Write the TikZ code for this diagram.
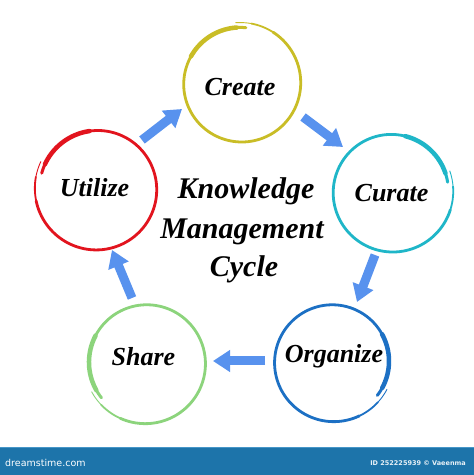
\documentclass[tikz,border=0pt]{standalone}
\usepackage{fontspec}
\setmainfont{Liberation Serif}
\newfontfamily\bannerfont{DejaVu Sans}
\usetikzlibrary{arrows.meta}
\definecolor{kmyellow}{RGB}{201,189,38}
\definecolor{kmteal}{RGB}{31,182,200}
\definecolor{kmred}{RGB}{226,20,30}
\definecolor{kmgreen}{RGB}{140,212,124}
\definecolor{kmblue}{RGB}{28,112,196}
\definecolor{kmarrow}{RGB}{88,146,238}
\definecolor{kmbanner}{RGB}{29,116,170}
\definecolor{kmbannerline}{RGB}{70,150,200}
\tikzset{
  stage/.style={circle, minimum size=118pt, inner sep=0pt, draw=none},
  stagelabel/.style={anchor=base, font=\fontsize{26}{30}\selectfont\bfseries\itshape},
  titleline/.style={anchor=base, font=\fontsize{30}{36}\selectfont\bfseries\itshape},
  flow/.style={draw=kmarrow, line width=9pt, -{Triangle[width=21pt,length=17pt]}},
}
% #1 node name, #2 radius, #3 start angle, #4 sweep, #5 colour
\newcommand\kmspiral[5]{%
  \begin{scope}[shift={(#1.center)}, color=#5, line cap=round]
    \draw[line width=0.9pt] plot[domain=0:0.04,samples=8] ({#3+(#4)*\x}:{#2+2.5-5*\x});
    \draw[line width=1.8pt] plot[domain=0.04:0.1,samples=10] ({#3+(#4)*\x}:{#2+2.5-5*\x});
    \draw[line width=2.8pt] plot[domain=0.1:0.82,samples=90] ({#3+(#4)*\x}:{#2+2.5-5*\x});
    \draw[line width=4.5pt] plot[domain=0.82:0.975,samples=20] ({#3+(#4)*\x}:{#2+2.5-5*\x});
    \draw[line width=3pt] plot[domain=0.975:1,samples=4] ({#3+(#4)*\x}:{#2+2.5-5*\x});
  \end{scope}}
\begin{document}
\begin{tikzpicture}[x=1pt,y=1pt]
\useasboundingbox (0,0) rectangle (474,475);
\fill[white] (0,0) rectangle (474,475);

% stages
\node[stage] (create)   at (241,391.5) {};
\node[stage] (curate)   at (392,283) {};
\node[stage] (organize) at (333,113) {};
\node[stage] (share)    at (146,112) {};
\node[stage] (utilize)  at (97,286) {};

\kmspiral{create}{58.5}{95}{-370}{kmyellow}
\kmspiral{curate}{59}{20}{-370}{kmteal}
\kmspiral{organize}{58}{-27}{-370}{kmblue}
\kmspiral{utilize}{60}{154}{370}{kmred}
\kmspiral{share}{59}{208}{370}{kmgreen}

\node[stagelabel] (createL)   at (240,379) {Create};
\node[stagelabel] (curateL)   at (391.5,273) {Curate};
\node[stagelabel] (organizeL) at (334,112) {Organize};
\node[stagelabel] (shareL)    at (143.5,110) {Share};
\node[stagelabel] (utilizeL)  at (94.5,278) {Utilize};

% title
\node[titleline] (t1) at (246,276) {Knowledge};
\node[titleline] (t2) at (242,236) {Management};
\node[titleline] (t3) at (244,198) {Cycle};

% arrows
\coordinate (a1s) at (142,335); \coordinate (a1e) at (182,366);
\coordinate (a2s) at (303,358); \coordinate (a2e) at (343,328);
\coordinate (a3s) at (375,220); \coordinate (a3e) at (357,173);
\coordinate (a4s) at (265,114); \coordinate (a4e) at (213,114);
\coordinate (a5s) at (132,177); \coordinate (a5e) at (112,225);
\draw[flow] (a1s) -- (a1e);
\draw[flow] (a2s) -- (a2e);
\draw[flow] (a3s) -- (a3e);
\draw[flow] (a4s) -- (a4e);
\draw[flow] (a5s) -- (a5e);

% banner
\fill[kmbanner] (0,0) rectangle (474,28);
\draw[kmbannerline, line width=0.8pt] (0,27.6) -- (474,27.6);
\node[anchor=base west, text=white, font=\bannerfont\fontsize{9.5}{11}\selectfont, inner sep=0pt] (brand) at (5,9) {dreamstime.com};
\node[anchor=base east, text=white!90!kmbanner, font=\bannerfont\bfseries\fontsize{6.5}{8}\selectfont, inner sep=0pt] (credit) at (466,9.5) {ID 252225939 © Vaeenma};
\end{tikzpicture}
\end{document}
